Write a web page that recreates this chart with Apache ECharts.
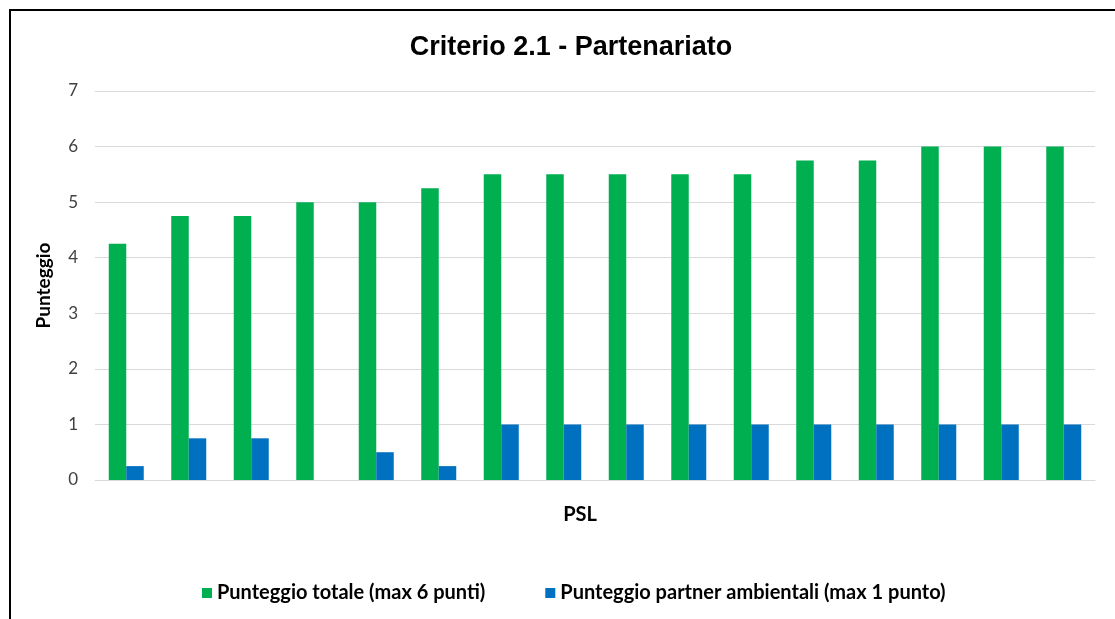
<!DOCTYPE html>
<html>
<head>
<meta charset="utf-8">
<script src="https://cdn.jsdelivr.net/npm/echarts@6/dist/echarts.min.js"></script>
<style>
  html, body { margin: 0; padding: 0; background: #fff; }
  #chart { width: 1115px; height: 619px; }
</style>
</head>
<body>
<div id="chart"></div>
<script>
// PSL categories (no labels shown on the axis)
const categories = ["1", "2", "3", "4", "5", "6", "7", "8", "9", "10", "11", "12", "13", "14", "15", "16"];
const totale = [4.25, 4.75, 4.75, 5, 5, 5.25, 5.5, 5.5, 5.5, 5.5, 5.5, 5.75, 5.75, 6, 6, 6];
const ambientali = [0.25, 0.75, 0.75, 0, 0.5, 0.25, 1, 1, 1, 1, 1, 1, 1, 1, 1, 1];
const seriesNames = ["Punteggio totale (max 6 punti)", "Punteggio partner ambientali (max 1 punto)"];

const chart = echarts.init(document.getElementById("chart"));
const font = "Lato, 'Liberation Sans', sans-serif";

chart.setOption({
  animation: false,
  title: {
    text: "Criterio 2.1 - Partenariato",
    left: 566,
    top: 29,
    textAlign: "center",
    textStyle: { fontFamily: "'Liberation Sans', Arial, sans-serif", fontSize: 27, fontWeight: "bold", color: "#000" }
  },
  graphic: [{
    type: "rect",
    shape: { x: 10, y: 10, width: 1120, height: 640 },
    style: { fill: "none", stroke: "#000", lineWidth: 2 },
    silent: true
  }],
  legend: {
    bottom: 11,
    left: 197,
    itemWidth: 10,
    itemHeight: 10,
    itemGap: 60,
    icon: "rect",
    textStyle: { fontFamily: font, fontSize: 20, fontWeight: "bold", color: "#000" },
    data: seriesNames
  },
  grid: { left: 95, right: 20, top: 91, bottom: 139 },
  xAxis: {
    type: "category",
    data: categories,
    name: "PSL",
    nameLocation: "middle",
    nameGap: 25,
    nameTextStyle: { fontFamily: font, fontSize: 20, fontWeight: "bold", color: "#000", padding: [0, 30, 0, 0] },
    axisLine: { lineStyle: { color: "#d9d9d9" } },
    axisTick: { show: false },
    axisLabel: { show: false }
  },
  yAxis: {
    type: "value",
    min: 0,
    max: 7,
    interval: 1,
    name: "Punteggio",
    nameLocation: "middle",
    nameGap: 42,
    nameTextStyle: { fontFamily: font, fontSize: 19, fontWeight: "bold", color: "#000" },
    axisLine: { show: false },
    axisTick: { show: false },
    axisLabel: { fontFamily: font, fontSize: 17, color: "#404040", margin: 17 },
    splitLine: { lineStyle: { color: "#d9d9d9" } }
  },
  series: [
    {
      name: seriesNames[0],
      type: "bar",
      data: totale,
      barGap: "0%",
      barCategoryGap: "44%",
      itemStyle: { color: "#00B050" }
    },
    {
      name: seriesNames[1],
      type: "bar",
      data: ambientali,
      itemStyle: { color: "#0070C0" }
    }
  ]
});
</script>
</body>
</html>
